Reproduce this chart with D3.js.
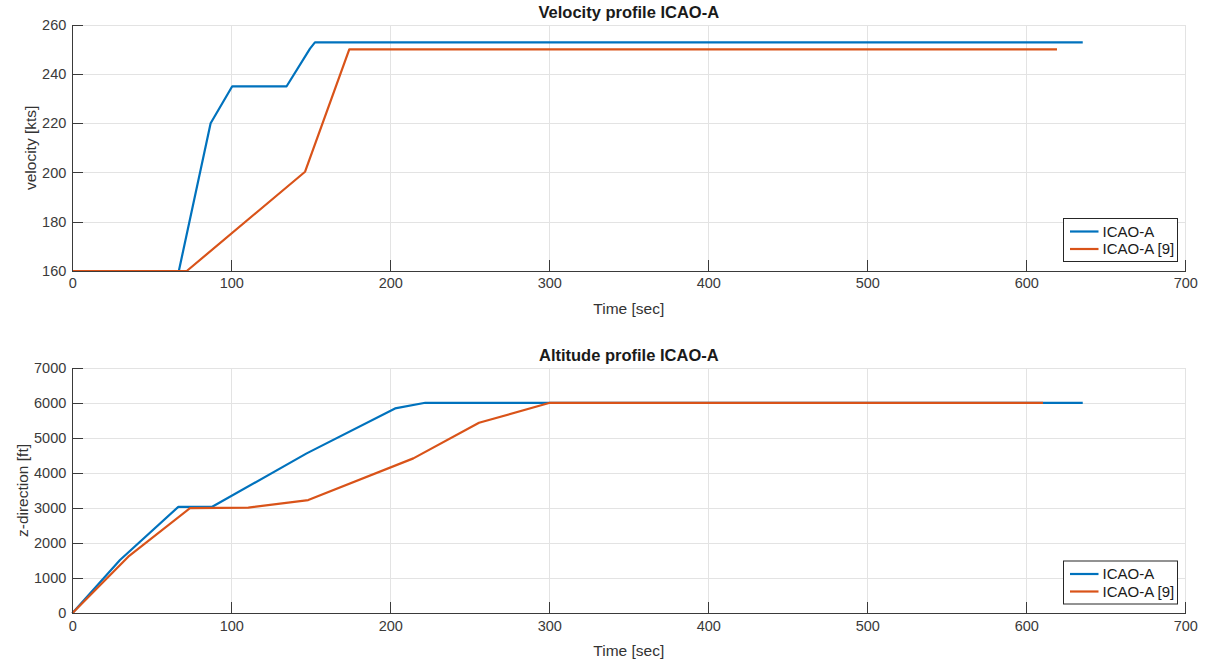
<!DOCTYPE html>
<html>
<head>
<meta charset="UTF-8" />
<title>ICAO-A profiles</title>
<style>
  body { margin: 0; background: #fff; font-family: "Liberation Sans", Arial, sans-serif; }
  .grid line { stroke: #e3e3e3; stroke-width: 1px; shape-rendering: crispEdges; }
  .axis path, .axis line { stroke: #3a3a3a; shape-rendering: crispEdges; }
  .lbl { fill: #333; font-size: 15.5px; }
  .ttl { fill: #1a1a1a; font-size: 16.5px; font-weight: bold; }
  .legend text { fill: #1a1a1a; font-size: 15px; }
</style>
<script src="https://d3js.org/d3.v7.min.js"></script>
</head>
<body>
<svg id="fig" width="1211" height="660"></svg>
<script>
// --- data ---
const seriesNames = ["ICAO-A", "ICAO-A [9]"];
const colors = ["#0072BD", "#D95319"];

// velocity [kts] vs time [sec]
const velTimeA = [0, 67, 87, 100.6, 134.8, 149.5, 152.6, 635.5];
const velA     = [160, 160, 220, 235, 235, 250.3, 252.8, 252.8];
const velTimeB = [0, 72, 146.4, 174.2, 619.3];
const velB     = [160, 160, 200.3, 250, 250];

// altitude [ft] vs time [sec]
const altTimeA = [0, 30, 66.7, 88, 147.4, 203, 222, 635.5];
const altA     = [0, 1520, 3035, 3035, 4558, 5840, 6000, 6000];
const altTimeB = [0, 35.2, 74, 110.7, 148.4, 214.5, 255.8, 300.4, 610.5];
const altB     = [0, 1613, 2995, 3010, 3228, 4416, 5430, 6000, 6000];

const xTicks = [0, 100, 200, 300, 400, 500, 600, 700];
const velTicks = [160, 180, 200, 220, 240, 260];
const altTicks = [0, 1000, 2000, 3000, 4000, 5000, 6000, 7000];

const svg = d3.select("#fig");
const left = 72.3, right = 1185.3, tickLen = 11;

function styleAxis(a) {
  a.attr("font-size", 14.5).attr("font-family", "'Liberation Sans', Arial, sans-serif");
  a.selectAll(".tick text").attr("fill", "#3a3a3a");
}

function panel(cfg) {
  const x = d3.scaleLinear().domain([0, 700]).range([left, right]);
  const y = d3.scaleLinear().domain(cfg.yDomain).range([cfg.bottom, cfg.top]);
  const g = svg.append("g");

  // grid
  const grid = g.append("g").attr("class", "grid");
  grid.selectAll("line.v").data(xTicks.slice(1)).enter().append("line")
    .attr("x1", d => Math.round(x(d)) + 0.5).attr("x2", d => Math.round(x(d)) + 0.5)
    .attr("y1", cfg.top).attr("y2", cfg.bottom);
  grid.selectAll("line.h").data(cfg.yTicks.slice(1)).enter().append("line")
    .attr("x1", left).attr("x2", right)
    .attr("y1", d => Math.round(y(d)) + 0.5).attr("y2", d => Math.round(y(d)) + 0.5);

  // lines
  const line = d3.line().x(d => x(d[0])).y(d => y(d[1]));
  cfg.series.forEach((s, i) => {
    g.append("path")
      .datum(d3.zip(s[0], s[1]))
      .attr("fill", "none")
      .attr("stroke", colors[i])
      .attr("stroke-width", 2.2)
      .attr("stroke-linejoin", "round")
      .attr("d", line);
  });

  // axes (inward ticks)
  g.append("g").attr("class", "axis")
    .attr("transform", `translate(0,${cfg.bottom})`)
    .call(d3.axisBottom(x).tickValues(xTicks).tickFormat(d3.format("d"))
      .tickSizeInner(-tickLen).tickSizeOuter(0).tickPadding(7))
    .call(styleAxis);
  g.append("g").attr("class", "axis")
    .attr("transform", `translate(${left},0)`)
    .call(d3.axisLeft(y).tickValues(cfg.yTicks).tickFormat(d3.format("d"))
      .tickSizeInner(-tickLen).tickSizeOuter(0).tickPadding(6))
    .call(styleAxis);

  // texts
  g.append("text").attr("class", "ttl").attr("x", (left + right) / 2).attr("y", cfg.top - 7)
    .attr("text-anchor", "middle").text(cfg.title);
  g.append("text").attr("class", "lbl").attr("x", (left + right) / 2).attr("y", cfg.bottom + 43)
    .attr("text-anchor", "middle").text("Time [sec]");
  g.append("text").attr("class", "lbl")
    .attr("transform", `translate(${cfg.ylabelX},${(cfg.top + cfg.bottom) / 2}) rotate(-90)`)
    .attr("text-anchor", "middle").text(cfg.ylabel);

  // legend
  const lg = g.append("g").attr("class", "legend");
  lg.append("rect").attr("x", 1063.5).attr("y", cfg.legendTop + 0.5)
    .attr("width", 114).attr("height", 43)
    .attr("fill", "#fff").attr("stroke", "#262626").attr("stroke-width", 1);
  seriesNames.forEach((n, i) => {
    const yy = cfg.legendTop + 13.5 + i * 17.5;
    lg.append("line").attr("x1", 1070).attr("x2", 1098.5).attr("y1", yy).attr("y2", yy)
      .attr("stroke", colors[i]).attr("stroke-width", 2.2);
    lg.append("text").attr("x", 1102.5).attr("y", yy + 5).text(n);
  });
}

panel({
  top: 24.7, bottom: 271, yDomain: [160, 260], yTicks: velTicks,
  title: "Velocity profile ICAO-A", ylabel: "velocity [kts]", ylabelX: 36,
  series: [[velTimeA, velA], [velTimeB, velB]], legendTop: 218
});
panel({
  top: 367.7, bottom: 613.3, yDomain: [0, 7000], yTicks: altTicks,
  title: "Altitude profile ICAO-A", ylabel: "z-direction [ft]", ylabelX: 28,
  series: [[altTimeA, altA], [altTimeB, altB]], legendTop: 560.5
});
</script>
</body>
</html>
